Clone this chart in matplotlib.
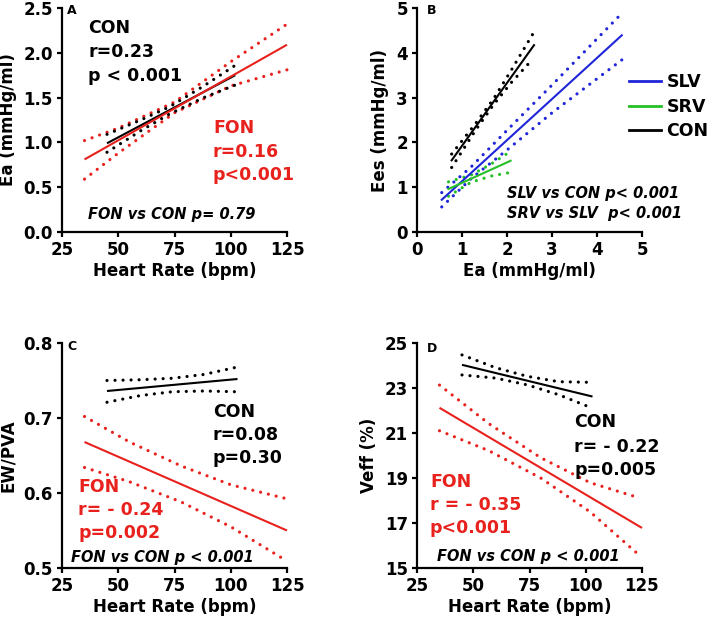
import matplotlib
matplotlib.use("Agg")
import matplotlib.pyplot as plt
from matplotlib.lines import Line2D

plt.rcParams['font.family'] = ['DejaVu Sans']
plt.rcParams['font.weight'] = 'bold'

RED = '#e8211d'
BLUE = '#1f25d8'
GREEN = '#25c025'
BLACK = '#000000'

# ---------------- Panel A: Ea vs Heart Rate ----------------
a_fon_hr = [35, 125]
a_fon_ea = [0.81, 2.09]
a_fon_band_hr = [35, 50, 75, 100, 125]
a_fon_upper = [1.02, 1.16, 1.45, 1.90, 2.32]
a_fon_lower = [0.59, 0.88, 1.33, 1.63, 1.81]
a_con_hr = [45, 102]
a_con_ea = [0.99, 1.75]
a_con_band_hr = [45, 60, 73, 88, 102]
a_con_upper = [1.09, 1.25, 1.40, 1.63, 1.86]
a_con_lower = [0.89, 1.13, 1.32, 1.50, 1.64]

# ---------------- Panel B: Ees vs Ea ----------------
b_slv_ea = [0.55, 4.55]
b_slv_ees = [0.72, 4.39]
b_slv_band_ea = [0.55, 1.2, 2.0, 3.0, 4.55]
b_slv_upper = [0.88, 1.45, 2.27, 3.28, 4.88]
b_slv_lower = [0.56, 1.19, 1.83, 2.66, 3.84]
b_srv_ea = [0.70, 2.08]
b_srv_ees = [0.96, 1.59]
b_srv_band_ea = [0.70, 1.2, 1.65, 2.08]
b_srv_upper = [1.12, 1.27, 1.52, 1.80]
b_srv_lower = [0.80, 1.11, 1.25, 1.33]
b_con_ea = [0.77, 2.60]
b_con_ees = [1.60, 4.17]
b_con_band_ea = [0.77, 1.3, 1.7, 2.1, 2.58]
b_con_upper = [1.74, 2.42, 2.97, 3.62, 4.43]
b_con_lower = [1.44, 2.27, 2.84, 3.34, 3.87]
b_legend_labels = ['SLV', 'SRV', 'CON']

# ---------------- Panel C: EW/PVA vs Heart Rate ----------------
c_con_hr = [45, 103]
c_con_val = [0.736, 0.752]
c_con_band_hr = [45, 60, 74, 88, 103]
c_con_upper = [0.750, 0.751, 0.753, 0.758, 0.768]
c_con_lower = [0.721, 0.730, 0.735, 0.736, 0.735]
c_fon_hr = [35, 125]
c_fon_val = [0.668, 0.550]
c_fon_band_hr = [35, 55, 78, 100, 124]
c_fon_upper = [0.702, 0.668, 0.636, 0.611, 0.593]
c_fon_lower = [0.634, 0.615, 0.588, 0.555, 0.511]

# ---------------- Panel D: Veff vs Heart Rate ----------------
d_con_hr = [45, 103]
d_con_val = [24.03, 22.62]
d_con_band_hr = [45, 60, 74, 88, 103]
d_con_upper = [24.47, 23.90, 23.52, 23.28, 23.25]
d_con_lower = [23.58, 23.44, 23.14, 22.70, 22.10]
d_fon_hr = [35, 125]
d_fon_val = [22.12, 16.78]
d_fon_band_hr = [35, 57, 80, 102, 124]
d_fon_upper = [23.13, 21.41, 19.90, 18.79, 18.11]
d_fon_lower = [21.10, 20.21, 19.00, 17.49, 15.55]

hr_ticks = [25, 50, 75, 100, 125]

W, H = 709, 622
fig = plt.figure(figsize=(W / 100, H / 100), dpi=100)


def add_ax(x0, y0, x1, y1):
    return fig.add_axes([x0 / W, 1 - y1 / H, (x1 - x0) / W, (y1 - y0) / H])


def style(ax, xlim, ylim, xticks, yticks, xlabel, ylabel, yfmt=None):
    ax.set_xlim(*xlim)
    ax.set_ylim(*ylim)
    ax.set_xticks(xticks)
    ax.set_yticks(yticks)
    if yfmt:
        ax.set_yticklabels([yfmt.format(v) for v in yticks])
    for s in ['top', 'right']:
        ax.spines[s].set_visible(False)
    for s in ['left', 'bottom']:
        ax.spines[s].set_linewidth(1.6)
    ax.tick_params(direction='out', length=3.5, width=1.6, labelsize=12, pad=3)
    for lab in ax.get_xticklabels() + ax.get_yticklabels():
        lab.set_fontweight('bold')
    ax.set_xlabel(xlabel, fontsize=12, fontweight='bold', labelpad=2)
    ax.set_ylabel(ylabel, fontsize=12, fontweight='bold', labelpad=5)
    ax.patch.set_visible(False)


def fit(ax, x, y, color):
    ax.plot(x, y, color=color, lw=1.5, solid_capstyle='butt', clip_on=False)


def band(ax, x, y, color):
    ax.plot(x, y, color=color, lw=2.3, linestyle=(0, (0.01, 2.5)),
            dash_capstyle='round', clip_on=False)


def ftext(x, y, s, color=BLACK, size=12, style='normal', weight='bold'):
    fig.text(x / W, 1 - y / H, s, color=color, fontsize=size, fontstyle=style,
             fontweight=weight, ha='left', va='baseline')


# Panel A
axA = add_ax(62, 8, 287, 232)
style(axA, (25, 125), (0, 2.5), hr_ticks, [0, 0.5, 1.0, 1.5, 2.0, 2.5],
      'Heart Rate (bpm)', 'Ea (mmHg/ml)', '{:.1f}')
band(axA, a_fon_band_hr, a_fon_upper, RED)
band(axA, a_fon_band_hr, a_fon_lower, RED)
band(axA, a_con_band_hr, a_con_upper, BLACK)
band(axA, a_con_band_hr, a_con_lower, BLACK)
fit(axA, a_con_hr, a_con_ea, BLACK)
fit(axA, a_fon_hr, a_fon_ea, RED)

# Panel B
axB = add_ax(417, 8, 642, 232)
style(axB, (0, 5), (0, 5), [0, 1, 2, 3, 4, 5], [0, 1, 2, 3, 4, 5],
      'Ea (mmHg/ml)', 'Ees (mmHg/ml)')
band(axB, b_slv_band_ea, b_slv_upper, BLUE)
band(axB, b_slv_band_ea, b_slv_lower, BLUE)
band(axB, b_srv_band_ea, b_srv_upper, GREEN)
band(axB, b_srv_band_ea, b_srv_lower, GREEN)
band(axB, b_con_band_ea, b_con_upper, BLACK)
band(axB, b_con_band_ea, b_con_lower, BLACK)
axB.plot(b_slv_ea, b_slv_ees, color=BLUE, lw=1.5)
axB.plot(b_srv_ea, b_srv_ees, color=GREEN, lw=1.5)
axB.plot(b_con_ea, b_con_ees, color=BLACK, lw=1.5)
leg_handles = [Line2D([], [], color=c, lw=2) for c in (BLUE, GREEN, BLACK)]
fig.legend(leg_handles, b_legend_labels, loc='upper left',
           bbox_to_anchor=(629 / W, 1 - 73 / H), frameon=False,
           prop={'size': 12.5, 'weight': 'bold'}, handlelength=1.85,
           handletextpad=0.3, labelspacing=0.38, borderpad=0, borderaxespad=0)

# Panel C
axC = add_ax(62, 343, 287, 568)
style(axC, (25, 125), (0.5, 0.8), hr_ticks, [0.5, 0.6, 0.7, 0.8],
      'Heart Rate (bpm)', 'EW/PVA', '{:.1f}')
band(axC, c_con_band_hr, c_con_upper, BLACK)
band(axC, c_con_band_hr, c_con_lower, BLACK)
band(axC, c_fon_band_hr, c_fon_upper, RED)
band(axC, c_fon_band_hr, c_fon_lower, RED)
fit(axC, c_con_hr, c_con_val, BLACK)
fit(axC, c_fon_hr, c_fon_val, RED)

# Panel D
axD = add_ax(417, 343, 642, 568)
style(axD, (25, 125), (15, 25), hr_ticks, [15, 17, 19, 21, 23, 25],
      'Heart Rate (bpm)', 'Veff (%)')
band(axD, d_con_band_hr, d_con_upper, BLACK)
band(axD, d_con_band_hr, d_con_lower, BLACK)
band(axD, d_fon_band_hr, d_fon_upper, RED)
band(axD, d_fon_band_hr, d_fon_lower, RED)
fit(axD, d_con_hr, d_con_val, BLACK)
fit(axD, d_fon_hr, d_fon_val, RED)

# Panel letters
ftext(67, 14, 'A', size=9)
ftext(427, 14, 'B', size=9)
ftext(67, 350, 'C', size=9)
ftext(427, 352, 'D', size=9)

# Panel A annotations
ftext(88, 33, 'CON', size=12.5)
ftext(88, 57, 'r=0.23', size=12.5)
ftext(88, 81, 'p < 0.001', size=12.5)
ftext(213, 133, 'FON', RED, size=12.5)
ftext(213, 157, 'r=0.16', RED, size=12.5)
ftext(213, 180, 'p<0.001', RED, size=12.5)
ftext(88, 219, 'FON vs CON p= 0.79', size=10.5, style='italic')

# Panel B annotations
ftext(507, 198, 'SLV vs CON p< 0.001', size=10.5, style='italic')
ftext(507, 218, 'SRV vs SLV  p< 0.001', size=10.5, style='italic')

# Panel C annotations
ftext(213, 417, 'CON', size=12.5)
ftext(213, 440, 'r=0.08', size=12.5)
ftext(213, 463, 'p=0.30', size=12.5)
ftext(78, 492, 'FON', RED, size=12.5)
ftext(78, 515, 'r= - 0.24', RED, size=12.5)
ftext(78, 538, 'p=0.002', RED, size=12.5)
ftext(71, 562, 'FON vs CON p < 0.001', size=10.5, style='italic')

# Panel D annotations
ftext(574, 427, 'CON', size=12.5)
ftext(574, 452, 'r= - 0.22', size=12.5)
ftext(574, 475, 'p=0.005', size=12.5)
ftext(430, 487, 'FON', RED, size=12.5)
ftext(430, 510, 'r = - 0.35', RED, size=12.5)
ftext(430, 533, 'p<0.001', RED, size=12.5)
ftext(437, 561, 'FON vs CON p < 0.001', size=10.5, style='italic')

fig.savefig('out.png', dpi=100)
